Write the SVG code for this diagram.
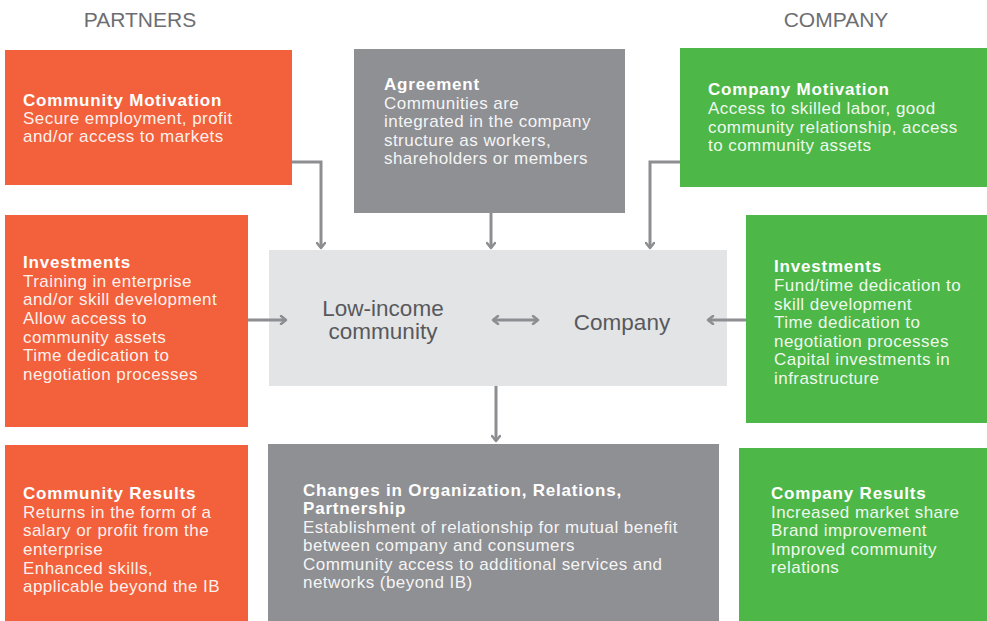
<svg xmlns="http://www.w3.org/2000/svg" width="987" height="621" viewBox="0 0 987 621">
<defs>
<style>
.orange{fill:#F2613B}
.green{fill:#4DB848}
.dgray{fill:#8F9094}
.lgray{fill:#E3E4E6}
text{font-family:"Liberation Sans",Arial,Helvetica,sans-serif}
.t{font-size:17px;font-weight:bold;fill:#FFFFFF;letter-spacing:0.8px}
.b{font-size:17px;fill:#FFFFFF;fill-opacity:0.93;letter-spacing:0.45px}
.hdr{font-size:21px;fill:#6D6E71;text-anchor:middle}
.ctr{font-size:22.5px;fill:#58595C;text-anchor:middle}
.conn{stroke:#8D8E92;stroke-width:3;fill:none}
</style>
<marker id="arr" viewBox="0 0 10 10" refX="8" refY="5" markerWidth="10" markerHeight="10" markerUnits="userSpaceOnUse" orient="auto-start-reverse">
<path d="M3,1 L8,5 L3,9" fill="none" stroke="#8D8E92" stroke-width="2.5" stroke-linecap="round" stroke-linejoin="round"/>
</marker>
</defs>
<rect width="987" height="621" fill="#FFFFFF"/>

<text class="hdr" x="140" y="27">PARTNERS</text>
<text class="hdr" x="836" y="27">COMPANY</text>

<g id="community-motivation">
<rect class="orange" x="5" y="50" width="287" height="135"/>
<text class="t" x="23" y="106">Community Motivation</text>
<text class="b" x="23" y="124">Secure employment, profit</text>
<text class="b" x="23" y="142">and/or access to markets</text>
</g>

<g id="agreement">
<rect class="dgray" x="354" y="49" width="271" height="164"/>
<text class="t" x="384" y="90">Agreement</text>
<text class="b" x="384" y="109">Communities are</text>
<text class="b" x="384" y="127">integrated in the company</text>
<text class="b" x="384" y="146">structure as workers,</text>
<text class="b" x="384" y="164">shareholders or members</text>
</g>

<g id="company-motivation">
<rect class="green" x="680" y="48" width="307" height="139"/>
<text class="t" x="708" y="95">Company Motivation</text>
<text class="b" x="708" y="114">Access to skilled labor, good</text>
<text class="b" x="708" y="133">community relationship, access</text>
<text class="b" x="708" y="151">to community assets</text>
</g>

<g id="investments-partners">
<rect class="orange" x="5" y="215" width="243" height="212"/>
<text class="t" x="23" y="268">Investments</text>
<text class="b" x="23" y="287">Training in enterprise</text>
<text class="b" x="23" y="305">and/or skill development</text>
<text class="b" x="23" y="324">Allow access to</text>
<text class="b" x="23" y="343">community assets</text>
<text class="b" x="23" y="361">Time dedication to</text>
<text class="b" x="23" y="380">negotiation processes</text>
</g>

<g id="center">
<rect class="lgray" x="269" y="250" width="458" height="136"/>
<text class="ctr" x="383" y="316">Low-income</text>
<text class="ctr" x="383" y="339">community</text>
<text class="ctr" x="622" y="330">Company</text>
</g>

<g id="investments-company">
<rect class="green" x="746" y="215" width="241" height="208"/>
<text class="t" x="774" y="272">Investments</text>
<text class="b" x="774" y="291">Fund/time dedication to</text>
<text class="b" x="774" y="310">skill development</text>
<text class="b" x="774" y="328">Time dedication to</text>
<text class="b" x="774" y="347">negotiation processes</text>
<text class="b" x="774" y="365">Capital investments in</text>
<text class="b" x="774" y="384">infrastructure</text>
</g>

<g id="community-results">
<rect class="orange" x="5" y="445" width="243" height="176"/>
<text class="t" x="23" y="499">Community Results</text>
<text class="b" x="23" y="518">Returns in the form of a</text>
<text class="b" x="23" y="536">salary or profit from the</text>
<text class="b" x="23" y="555">enterprise</text>
<text class="b" x="23" y="574">Enhanced skills,</text>
<text class="b" x="23" y="592">applicable beyond the IB</text>
</g>

<g id="changes">
<rect class="dgray" x="268" y="444" width="451" height="177"/>
<text class="t" x="303" y="496">Changes in Organization, Relations,</text>
<text class="t" x="303" y="514">Partnership</text>
<text class="b" x="303" y="533">Establishment of relationship for mutual benefit</text>
<text class="b" x="303" y="551">between company and consumers</text>
<text class="b" x="303" y="570">Community access to additional services and</text>
<text class="b" x="303" y="588">networks (beyond IB)</text>
</g>

<g id="company-results">
<rect class="green" x="739" y="448" width="248" height="173"/>
<text class="t" x="771" y="499">Company Results</text>
<text class="b" x="771" y="518">Increased market share</text>
<text class="b" x="771" y="536">Brand improvement</text>
<text class="b" x="771" y="555">Improved community</text>
<text class="b" x="771" y="573">relations</text>
</g>

<g id="connectors">
<path class="conn" d="M292,162 H321 V248" marker-end="url(#arr)"/>
<path class="conn" d="M491,213 V248" marker-end="url(#arr)"/>
<path class="conn" d="M680,162 H650 V248" marker-end="url(#arr)"/>
<path class="conn" d="M248,320 H286" marker-end="url(#arr)"/>
<path class="conn" d="M746,320 H708" marker-end="url(#arr)"/>
<path class="conn" d="M493,320 H538" marker-start="url(#arr)" marker-end="url(#arr)"/>
<path class="conn" d="M496,386 V441" marker-end="url(#arr)"/>
</g>
</svg>
